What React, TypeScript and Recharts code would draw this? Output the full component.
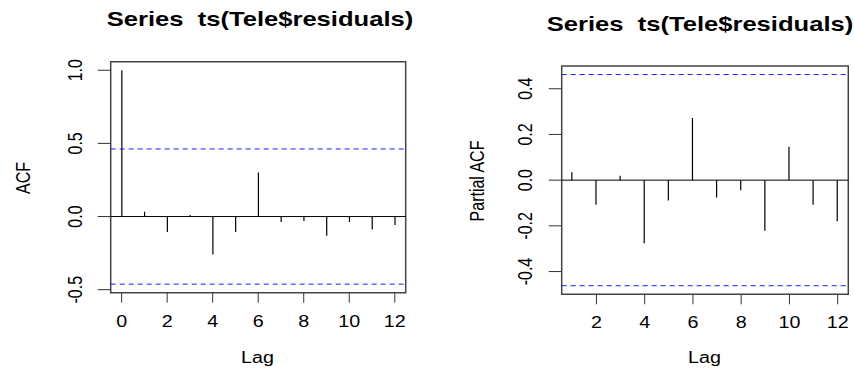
import { Bar, ComposedChart, Customized, ReferenceArea, ReferenceLine, XAxis, YAxis } from 'recharts';

// ACF / PACF of the residual series
const acfLags = [0, 1, 2, 3, 4, 5, 6, 7, 8, 9, 10, 11, 12];
const acfValues = [1, 0.032, -0.105, 0.011, -0.26, -0.105, 0.301, -0.037, -0.03, -0.132, -0.037, -0.089, -0.057];
const pacfLags = [1, 2, 3, 4, 5, 6, 7, 8, 9, 10, 11, 12];
const pacfValues = [0.035, -0.108, 0.019, -0.276, -0.089, 0.272, -0.076, -0.044, -0.221, 0.146, -0.108, -0.18];
const ciBound = 0.462;

const acfTicksX = [0, 2, 4, 6, 8, 10, 12];
const acfTicksY = [-0.5, 0, 0.5, 1];
const pacfTicksX = [2, 4, 6, 8, 10, 12];
const pacfTicksY = [-0.4, -0.2, 0, 0.2, 0.4];

const titleText = 'Series  ts(Tele$residuals)';

const acfData = acfLags.map((lag, i) => ({ lag, value: acfValues[i] }));
const pacfData = pacfLags.map((lag, i) => ({ lag, value: pacfValues[i] }));

// the source image is stretched sideways, so text gets the same stretch
const SX = 1.23;
const FONT = '"Liberation Sans", Arial, sans-serif';

function Stretch({ x, y, size, bold, rotate, anchor = 'middle', children }: any) {
  return (
    <g transform={`translate(${x},${y}) scale(${SX},1)`}>
      <text
        transform={rotate ? 'rotate(-90)' : undefined}
        textAnchor={anchor}
        fontSize={size}
        fontWeight={bold ? 'bold' : 'normal'}
        fontFamily={FONT}
        fill="#000"
        style={{ whiteSpace: 'pre' }}
      >
        {children}
      </text>
    </g>
  );
}

const makeXTick = (dy: number) => (props: any) => (
  <Stretch x={props.x} y={props.y + dy} size={16}>{String(props.payload.value)}</Stretch>
);

const makeYTick = (dx: number) => (props: any) => (
  <Stretch x={props.x + dx} y={props.y} size={16} rotate>{Number(props.payload.value).toFixed(1)}</Stretch>
);

function Panel({ data, xDomain, yDomain, xTicks, yTicks, margin, xTickDy, yTickDx, texts }: any) {
  return (
    <ComposedChart width={427} height={368} data={data} margin={margin}>
      <XAxis
        dataKey="lag"
        type="number"
        domain={xDomain}
        ticks={xTicks}
        allowDataOverflow
        height={40}
        axisLine={false}
        tickSize={10}
        tickMargin={0}
        tickLine={{ stroke: '#333' }}
        tick={makeXTick(xTickDy)}
      />
      <YAxis
        type="number"
        domain={yDomain}
        ticks={yTicks}
        allowDataOverflow
        width={60}
        axisLine={false}
        tickSize={13}
        tickMargin={0}
        tickLine={{ stroke: '#333' }}
        tick={makeYTick(yTickDx)}
      />
      <ReferenceArea
        x1={xDomain[0]}
        x2={xDomain[1]}
        y1={yDomain[0]}
        y2={yDomain[1]}
        ifOverflow="visible"
        fill="none"
        fillOpacity={0}
        stroke="#444"
        strokeWidth={1.5}
      />
      <ReferenceLine y={0} stroke="#000" strokeWidth={1} ifOverflow="visible" />
      <ReferenceLine y={ciBound} stroke="#1a1aff" strokeDasharray="5 4" strokeWidth={1} />
      <ReferenceLine y={-ciBound} stroke="#1a1aff" strokeDasharray="5 4" strokeWidth={1} />
      <Bar dataKey="value" barSize={1.2} fill="#000" isAnimationActive={false} />
      <Customized component={() => <g>{texts}</g>} />
    </ComposedChart>
  );
}

export default function App() {
  return (
    <div style={{ position: 'absolute', left: 0, top: 0, width: 854, height: 368, background: '#fff', overflow: 'hidden' }}>
      <div style={{ position: 'absolute', left: 0, top: 0 }}>
        <Panel
          data={acfData}
          xDomain={[-0.48, 12.48]}
          yDomain={[-0.5205, 1.0585]}
          xTicks={acfTicksX}
          yTicks={acfTicksY}
          margin={{ top: 61.7, right: 21.3, bottom: 35.3, left: 50.7 }}
          xTickDy={24.6}
          yTickDx={-16}
          texts={[
            <Stretch key="t" x={260} y={26} size={20.8} bold>{titleText}</Stretch>,
            <Stretch key="y" x={30} y={178} size={16} rotate>ACF</Stretch>,
            <Stretch key="x" x={257.5} y={363} size={16}>Lag</Stretch>,
          ]}
        />
      </div>
      <div style={{ position: 'absolute', left: 427, top: 0 }}>
        <Panel
          data={pacfData}
          xDomain={[0.56, 12.44]}
          yDomain={[-0.4995, 0.4995]}
          xTicks={pacfTicksX}
          yTicks={pacfTicksY}
          margin={{ top: 66, right: 5.7, bottom: 33.7, left: 74.7}}
          xTickDy={24}
          yTickDx={-16.7}
          texts={[
            <Stretch key="t" x={273} y={30.5} size={20.8} bold>{titleText}</Stretch>,
            <Stretch key="y" x={57} y={181} size={16} rotate>Partial ACF</Stretch>,
            <Stretch key="x" x={277.5} y={363} size={16}>Lag</Stretch>,
          ]}
        />
      </div>
    </div>
  );
}
